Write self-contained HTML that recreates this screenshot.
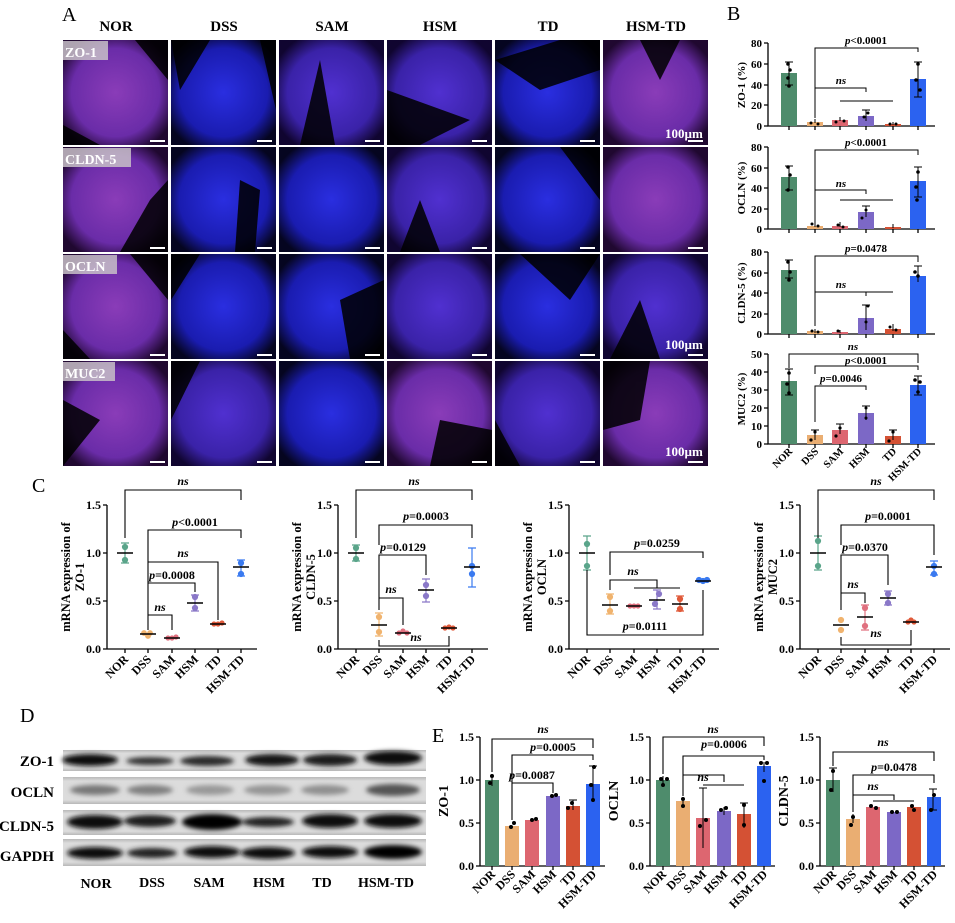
<!DOCTYPE html>
<html><head><meta charset="utf-8"><style>
html,body{margin:0;padding:0;background:#fff;}
svg{display:block;font-family:"Liberation Serif",serif;font-weight:bold;}
</style></head><body>
<svg width="955" height="923" viewBox="0 0 955 923" xmlns="http://www.w3.org/2000/svg">
<defs>
<radialGradient id="gp" cx="50%" cy="50%" r="60%"><stop offset="0" stop-color="#8a3cb8"/><stop offset="0.7" stop-color="#6a2ca8"/><stop offset="1" stop-color="#200830"/></radialGradient>
<radialGradient id="gb" cx="50%" cy="50%" r="60%"><stop offset="0" stop-color="#2a2ee0"/><stop offset="0.7" stop-color="#1a1cb0"/><stop offset="1" stop-color="#050520"/></radialGradient>
<radialGradient id="gm" cx="50%" cy="50%" r="60%"><stop offset="0" stop-color="#5030d0"/><stop offset="0.7" stop-color="#3a22a8"/><stop offset="1" stop-color="#100530"/></radialGradient>
<linearGradient id="wb" x1="0" y1="0" x2="0" y2="1"><stop offset="0" stop-color="#b8b8b8"/><stop offset="0.15" stop-color="#dcdcdc"/><stop offset="0.85" stop-color="#dcdcdc"/><stop offset="1" stop-color="#b8b8b8"/></linearGradient>
<filter id="bl"><feGaussianBlur stdDeviation="2.5"/></filter>
</defs>

<!-- Panel A -->
<text x="62" y="21" font-family="Liberation Serif" font-weight="normal" font-size="20">A</text>
<g font-size="15" text-anchor="middle">
<text x="116" y="31">NOR</text><text x="224" y="31">DSS</text><text x="332" y="31">SAM</text><text x="440" y="31">HSM</text><text x="548" y="31">TD</text><text x="656" y="31">HSM-TD</text>
</g>
<g>
<rect x="63" y="40" width="105" height="105" fill="url(#gp)"/>
<rect x="171" y="40" width="105" height="105" fill="url(#gb)"/>
<rect x="279" y="40" width="105" height="105" fill="url(#gm)"/>
<rect x="387" y="40" width="105" height="105" fill="url(#gm)"/>
<rect x="495" y="40" width="105" height="105" fill="url(#gb)"/>
<rect x="603" y="40" width="105" height="105" fill="url(#gp)"/>
<rect x="63" y="147" width="105" height="105" fill="url(#gp)"/>
<rect x="171" y="147" width="105" height="105" fill="url(#gb)"/>
<rect x="279" y="147" width="105" height="105" fill="url(#gb)"/>
<rect x="387" y="147" width="105" height="105" fill="url(#gm)"/>
<rect x="495" y="147" width="105" height="105" fill="url(#gb)"/>
<rect x="603" y="147" width="105" height="105" fill="url(#gp)"/>
<rect x="63" y="254" width="105" height="105" fill="url(#gp)"/>
<rect x="171" y="254" width="105" height="105" fill="url(#gb)"/>
<rect x="279" y="254" width="105" height="105" fill="url(#gb)"/>
<rect x="387" y="254" width="105" height="105" fill="url(#gm)"/>
<rect x="495" y="254" width="105" height="105" fill="url(#gb)"/>
<rect x="603" y="254" width="105" height="105" fill="url(#gm)"/>
<rect x="63" y="361" width="105" height="105" fill="url(#gp)"/>
<rect x="171" y="361" width="105" height="105" fill="url(#gm)"/>
<rect x="279" y="361" width="105" height="105" fill="url(#gb)"/>
<rect x="387" y="361" width="105" height="105" fill="url(#gp)"/>
<rect x="495" y="361" width="105" height="105" fill="url(#gm)"/>
<rect x="603" y="361" width="105" height="105" fill="url(#gp)"/>
</g>
<g fill="#000" opacity="0.85">
<path d="M135 40 L168 40 L168 80 Z"/><path d="M63 125 L100 145 L63 145 Z"/>
<path d="M171 40 L210 40 L180 90 Z"/><path d="M260 40 L276 40 L276 110 Z"/>
<path d="M320 60 L335 145 L300 145 Z"/><path d="M387 90 L470 120 L420 145 L387 145 Z"/>
<path d="M495 60 L560 40 L600 40 L600 70 L540 90 Z"/><path d="M640 40 L680 40 L660 80 Z"/>
<path d="M150 200 L168 180 L168 252 L120 252 Z"/><path d="M240 180 L260 190 L255 252 L235 252 Z"/>
<path d="M420 200 L440 252 L400 252 Z"/><path d="M560 147 L600 147 L600 200 Z"/>
<path d="M130 254 L168 254 L168 300 Z"/><path d="M63 330 L90 359 L63 359 Z"/>
<path d="M171 254 L200 254 L171 300 Z"/><path d="M340 300 L384 280 L384 359 L350 359 Z"/>
<path d="M520 254 L600 254 L570 300 Z"/><path d="M640 300 L660 359 L610 359 Z"/>
<path d="M63 400 L100 420 L63 466 Z"/><path d="M171 361 L200 361 L171 420 Z"/>
<path d="M440 420 L492 430 L492 466 L430 466 Z"/><path d="M495 420 L520 466 L495 466 Z"/>
<path d="M603 361 L650 361 L640 420 L603 430 Z"/>
</g>
<g fill="#fff">
<rect x="150" y="140" width="15" height="2"/><rect x="257" y="140" width="15" height="2"/><rect x="365" y="140" width="15" height="2"/><rect x="472" y="140" width="15" height="2"/><rect x="580" y="140" width="15" height="2"/><rect x="688" y="140" width="15" height="2"/>
<rect x="150" y="247" width="15" height="2"/><rect x="257" y="247" width="15" height="2"/><rect x="365" y="247" width="15" height="2"/><rect x="472" y="247" width="15" height="2"/><rect x="580" y="247" width="15" height="2"/><rect x="688" y="247" width="15" height="2"/>
<rect x="150" y="354" width="15" height="2"/><rect x="257" y="354" width="15" height="2"/><rect x="365" y="354" width="15" height="2"/><rect x="472" y="354" width="15" height="2"/><rect x="580" y="354" width="15" height="2"/><rect x="688" y="354" width="15" height="2"/>
<rect x="150" y="461" width="15" height="2"/><rect x="257" y="461" width="15" height="2"/><rect x="365" y="461" width="15" height="2"/><rect x="472" y="461" width="15" height="2"/><rect x="580" y="461" width="15" height="2"/><rect x="688" y="461" width="15" height="2"/>
</g>
<g font-size="13" fill="#fff">
<text x="665" y="138">100µm</text><text x="665" y="349">100µm</text><text x="665" y="456">100µm</text>
</g>
<g fill="#c8c0c8" opacity="0.85">
<rect x="63" y="41" width="45" height="19"/><rect x="63" y="148" width="68" height="19"/><rect x="63" y="255" width="54" height="19"/><rect x="63" y="362" width="52" height="19"/>
</g>
<g font-size="14" fill="#fff">
<text x="65" y="57">ZO-1</text><text x="65" y="164">CLDN-5</text><text x="65" y="271">OCLN</text><text x="65" y="378">MUC2</text>
</g>

<!-- Panel B -->
<text x="727" y="20" font-size="20" font-weight="normal">B</text>
<g stroke="#000" stroke-width="1.3" fill="none">
<path d="M768 43 V126 H935"/><path d="M768 147 V229 H935"/><path d="M768 252 V334 H935"/><path d="M768 354 V444 H935"/>
<path d="M764 43H768M764 64H768M764 85H768M764 105H768M764 126H768"/>
<path d="M764 147H768M764 168H768M764 188H768M764 209H768M764 229H768"/>
<path d="M764 252H768M764 273H768M764 293H768M764 314H768M764 334H768"/>
<path d="M764 354H768M764 372H768M764 390H768M764 408H768M764 426H768M764 444H768"/>
<path d="M789 126v4M815 126v4M840 126v4M866 126v4M893 126v4M918 126v4"/>
<path d="M789 229v4M815 229v4M840 229v4M866 229v4M893 229v4M918 229v4"/>
<path d="M789 334v4M815 334v4M840 334v4M866 334v4M893 334v4M918 334v4"/>
<path d="M789 444v4M815 444v4M840 444v4M866 444v4M893 444v4M918 444v4"/>
</g>
<g font-size="11" text-anchor="end">
<text x="762" y="47">80</text><text x="762" y="68">60</text><text x="762" y="89">40</text><text x="762" y="109">20</text><text x="762" y="130">0</text>
<text x="762" y="151">80</text><text x="762" y="172">60</text><text x="762" y="192">40</text><text x="762" y="213">20</text><text x="762" y="233">0</text>
<text x="762" y="256">80</text><text x="762" y="277">60</text><text x="762" y="297">40</text><text x="762" y="318">20</text><text x="762" y="338">0</text>
<text x="762" y="358">50</text><text x="762" y="376">40</text><text x="762" y="394">30</text><text x="762" y="412">20</text><text x="762" y="430">10</text><text x="762" y="448">0</text>
</g>
<g font-size="11" text-anchor="middle">
<text transform="translate(745 85) rotate(-90)">ZO-1 (%)</text>
<text transform="translate(745 188) rotate(-90)">OCLN (%)</text>
<text transform="translate(745 293) rotate(-90)">CLDN-5 (%)</text>
<text transform="translate(745 399) rotate(-90)">MUC2 (%)</text>
</g>
<g>
<rect x="781" y="73" width="16" height="53" fill="#4e8c6c"/><rect x="807" y="122" width="16" height="4" fill="#eaae72"/><rect x="832" y="120" width="16" height="6" fill="#dd6670"/><rect x="858" y="116" width="16" height="10" fill="#7c68c6"/><rect x="885" y="124" width="16" height="2" fill="#d45134"/><rect x="910" y="79" width="16" height="47" fill="#2b62f0"/>
<rect x="781" y="177" width="16" height="52" fill="#4e8c6c"/><rect x="807" y="226" width="16" height="3" fill="#eaae72"/><rect x="832" y="226" width="16" height="3" fill="#dd6670"/><rect x="858" y="212" width="16" height="17" fill="#7c68c6"/><rect x="885" y="227" width="16" height="2" fill="#d45134"/><rect x="910" y="181" width="16" height="48" fill="#2b62f0"/>
<rect x="781" y="270" width="16" height="64" fill="#4e8c6c"/><rect x="807" y="331" width="16" height="3" fill="#eaae72"/><rect x="832" y="332" width="16" height="2" fill="#dd6670"/><rect x="858" y="318" width="16" height="16" fill="#7c68c6"/><rect x="885" y="329" width="16" height="5" fill="#d45134"/><rect x="910" y="276" width="16" height="58" fill="#2b62f0"/>
<rect x="781" y="381" width="16" height="63" fill="#4e8c6c"/><rect x="807" y="435" width="16" height="9" fill="#eaae72"/><rect x="832" y="430" width="16" height="14" fill="#dd6670"/><rect x="858" y="413" width="16" height="31" fill="#7c68c6"/><rect x="885" y="436" width="16" height="8" fill="#d45134"/><rect x="910" y="385" width="16" height="59" fill="#2b62f0"/>
</g>
<g stroke="#000" stroke-width="1" fill="none">
<path d="M789 62V85M785 62h8M785 85h8M918 62V97M914 62h8M914 97h8M866 110V121M862 110h8M815 119V123M840 117V121M893 122V125"/>
<path d="M789 166V190M785 166h8M785 190h8M918 167V197M914 167h8M914 197h8M866 206V217M862 206h8M815 221V227M840 222V227M893 224V228"/>
<path d="M789 260V278M785 260h8M785 278h8M918 266V282M914 266h8M866 305V330M862 305h8M815 329V333M840 330V333M893 324V331"/>
<path d="M789 369V395M785 369h8M785 395h8M918 376V395M914 376h8M914 395h8M866 406V420M862 406h8M815 430V440M811 430h8M840 424V434M836 424h8M893 430V440M889 430h8"/>
</g>
<g fill="#000">
<circle cx="788" cy="64" r="1.8"/><circle cx="790" cy="70" r="1.8"/><circle cx="788" cy="78" r="1.8"/><circle cx="789" cy="86" r="1.8"/>
<circle cx="811" cy="123" r="1.5"/><circle cx="818" cy="124" r="1.5"/><circle cx="836" cy="122" r="1.5"/><circle cx="844" cy="121" r="1.5"/><circle cx="864" cy="117" r="1.5"/><circle cx="868" cy="113" r="1.5"/><circle cx="890" cy="124" r="1.5"/><circle cx="896" cy="124" r="1.5"/><circle cx="918" cy="64" r="1.8"/><circle cx="916" cy="80" r="1.8"/><circle cx="920" cy="90" r="1.8"/>
<circle cx="788" cy="167" r="1.8"/><circle cx="790" cy="175" r="1.8"/><circle cx="788" cy="190" r="1.8"/><circle cx="812" cy="224" r="1.5"/><circle cx="818" cy="226" r="1.5"/><circle cx="838" cy="225" r="1.5"/><circle cx="843" cy="227" r="1.5"/><circle cx="866" cy="210" r="1.5"/><circle cx="862" cy="218" r="1.5"/><circle cx="918" cy="172" r="1.8"/><circle cx="916" cy="187" r="1.8"/><circle cx="917" cy="200" r="1.8"/>
<circle cx="788" cy="262" r="1.8"/><circle cx="790" cy="272" r="1.8"/><circle cx="789" cy="280" r="1.8"/><circle cx="812" cy="331" r="1.5"/><circle cx="818" cy="332" r="1.5"/><circle cx="838" cy="331" r="1.5"/><circle cx="868" cy="306" r="1.5"/><circle cx="866" cy="322" r="1.5"/><circle cx="890" cy="327" r="1.5"/><circle cx="896" cy="330" r="1.5"/><circle cx="918" cy="276" r="1.8"/><circle cx="915" cy="272" r="1.8"/>
<circle cx="789" cy="373" r="1.8"/><circle cx="787" cy="384" r="1.8"/><circle cx="789" cy="393" r="1.8"/><circle cx="815" cy="432" r="1.6"/><circle cx="811" cy="440" r="1.6"/><circle cx="840" cy="428" r="1.6"/><circle cx="836" cy="436" r="1.6"/><circle cx="866" cy="408" r="1.5"/><circle cx="866" cy="418" r="1.5"/><circle cx="893" cy="432" r="1.6"/><circle cx="889" cy="441" r="1.6"/><circle cx="915" cy="380" r="1.8"/><circle cx="920" cy="382" r="1.8"/><circle cx="918" cy="392" r="1.8"/>
</g>
<g stroke="#000" stroke-width="1" fill="none">
<path d="M815 97V48H918V52M815 118V88H866V92M840 101H893"/>
<path d="M815 200V150H918V155M815 221V190H866V194M840 200H893"/>
<path d="M815 306V256H918V262M815 326V292H866V296M840 292H893"/>
<path d="M789 368V354H918V363M815 374V366H918V370M815 422V386H866V390"/>
</g>
<g font-size="11" text-anchor="middle">
<text x="866" y="44"><tspan font-style="italic">p</tspan>&lt;0.0001</text><text x="841" y="84" font-style="italic">ns</text>
<text x="866" y="146"><tspan font-style="italic">p</tspan>&lt;0.0001</text><text x="841" y="187" font-style="italic">ns</text>
<text x="866" y="252"><tspan font-style="italic">p</tspan>=0.0478</text><text x="841" y="288" font-style="italic">ns</text>
<text x="853" y="350" font-style="italic">ns</text><text x="866" y="364"><tspan font-style="italic">p</tspan>&lt;0.0001</text><text x="841" y="382"><tspan font-style="italic">p</tspan>=0.0046</text>
</g>
<g font-size="10.5" text-anchor="end">
<text transform="translate(793 452) rotate(-45)">NOR</text><text transform="translate(819 452) rotate(-45)">DSS</text><text transform="translate(844 452) rotate(-45)">SAM</text><text transform="translate(870 452) rotate(-45)">HSM</text><text transform="translate(897 452) rotate(-45)">TD</text><text transform="translate(922 452) rotate(-45)">HSM-TD</text>
</g>

<!-- Panel C -->
<text x="32" y="492" font-size="20" font-weight="normal">C</text>
<g stroke="#000" stroke-width="1.3" fill="none">
<path d="M107 505V649H257M103 505h4M103 553h4M103 601h4M103 649h4M125 649v4M148 649v4M172 649v4M195 649v4M218 649v4M241 649v4"/>
<path d="M338 505V649H488M334 505h4M334 553h4M334 601h4M334 649h4M356 649v4M379 649v4M403 649v4M426 649v4M449 649v4M472 649v4"/>
<path d="M569 505V649H719M565 505h4M565 553h4M565 601h4M565 649h4M587 649v4M610 649v4M634 649v4M657 649v4M680 649v4M703 649v4"/>
<path d="M800 505V649H950M796 505h4M796 553h4M796 601h4M796 649h4M818 649v4M841 649v4M865 649v4M888 649v4M911 649v4M934 649v4"/>
</g>
<g font-size="12" text-anchor="end">
<text x="101" y="509">1.5</text><text x="101" y="557">1.0</text><text x="101" y="605">0.5</text><text x="101" y="653">0.0</text>
<text x="332" y="509">1.5</text><text x="332" y="557">1.0</text><text x="332" y="605">0.5</text><text x="332" y="653">0.0</text>
<text x="563" y="509">1.5</text><text x="563" y="557">1.0</text><text x="563" y="605">0.5</text><text x="563" y="653">0.0</text>
<text x="794" y="509">1.5</text><text x="794" y="557">1.0</text><text x="794" y="605">0.5</text><text x="794" y="653">0.0</text>
</g>
<g font-size="12.5" text-anchor="middle">
<text transform="translate(70 577) rotate(-90)">mRNA expression of</text><text transform="translate(84 577) rotate(-90)">ZO-1</text>
<text transform="translate(301 577) rotate(-90)">mRNA expression of</text><text transform="translate(315 577) rotate(-90)">CLDN-5</text>
<text transform="translate(532 577) rotate(-90)">mRNA expression of</text><text transform="translate(546 577) rotate(-90)">OCLN</text>
<text transform="translate(763 577) rotate(-90)">mRNA expression of</text><text transform="translate(777 577) rotate(-90)">MUC2</text>
</g>
<g font-size="12" text-anchor="end">
<text transform="translate(129 660) rotate(-45)">NOR</text><text transform="translate(152 660) rotate(-45)">DSS</text><text transform="translate(176 660) rotate(-45)">SAM</text><text transform="translate(199 660) rotate(-45)">HSM</text><text transform="translate(222 660) rotate(-45)">TD</text><text transform="translate(245 660) rotate(-45)">HSM-TD</text>
<text transform="translate(360 660) rotate(-45)">NOR</text><text transform="translate(383 660) rotate(-45)">DSS</text><text transform="translate(407 660) rotate(-45)">SAM</text><text transform="translate(430 660) rotate(-45)">HSM</text><text transform="translate(453 660) rotate(-45)">TD</text><text transform="translate(476 660) rotate(-45)">HSM-TD</text>
<text transform="translate(591 660) rotate(-45)">NOR</text><text transform="translate(614 660) rotate(-45)">DSS</text><text transform="translate(638 660) rotate(-45)">SAM</text><text transform="translate(661 660) rotate(-45)">HSM</text><text transform="translate(684 660) rotate(-45)">TD</text><text transform="translate(707 660) rotate(-45)">HSM-TD</text>
<text transform="translate(822 660) rotate(-45)">NOR</text><text transform="translate(845 660) rotate(-45)">DSS</text><text transform="translate(869 660) rotate(-45)">SAM</text><text transform="translate(892 660) rotate(-45)">HSM</text><text transform="translate(915 660) rotate(-45)">TD</text><text transform="translate(938 660) rotate(-45)">HSM-TD</text>
</g>
<g stroke-width="1.2">
<g stroke="#5aa58a" fill="#5aa58a"><path d="M125 543V563M121 543h8M121 563h8"/><circle cx="125" cy="547" r="2.5"/><circle cx="125" cy="560" r="2.5"/></g>
<g stroke="#f0b36e" fill="#f0b36e"><circle cx="144" cy="633" r="2.3"/><circle cx="150" cy="633" r="2.3"/><circle cx="148" cy="636" r="2.3"/></g>
<g stroke="#e0707f" fill="#e0707f"><circle cx="168" cy="638" r="2"/><circle cx="172" cy="638" r="2"/><circle cx="176" cy="637" r="2"/></g>
<g stroke="#8a78c8" fill="#8a78c8"><path d="M195 595V611M191 595h8M191 611h8"/><circle cx="195" cy="597" r="2.5"/><circle cx="195" cy="608" r="2.5"/></g>
<g stroke="#e05a3a" fill="#e05a3a"><circle cx="214" cy="624" r="2"/><circle cx="218" cy="624" r="2"/><circle cx="222" cy="623" r="2"/></g>
<g stroke="#3a7af0" fill="#3a7af0"><path d="M241 560V576M237 560h8M237 576h8"/><circle cx="241" cy="563" r="2.5"/><circle cx="241" cy="574" r="2.5"/></g>
<path stroke="#000" stroke-width="1.6" d="M117 553h16M140 634h16M164 638h16M187 603h16M210 624h16M233 567h16"/>
<g stroke="#5aa58a" fill="#5aa58a"><path d="M356 545V561M352 545h8M352 561h8"/><circle cx="356" cy="548" r="2.5"/><circle cx="356" cy="559" r="2.5"/></g>
<g stroke="#f0b36e" fill="#f0b36e"><path d="M379 613V636M375 613h8M375 636h8"/><circle cx="379" cy="617" r="2.5"/><circle cx="379" cy="632" r="2.5"/></g>
<g stroke="#e0707f" fill="#e0707f"><circle cx="399" cy="633" r="2"/><circle cx="403" cy="631" r="2"/><circle cx="407" cy="633" r="2"/></g>
<g stroke="#8a78c8" fill="#8a78c8"><path d="M426 579V602M422 579h8M422 602h8"/><circle cx="426" cy="585" r="2.5"/><circle cx="426" cy="596" r="2.5"/></g>
<g stroke="#e05a3a" fill="#e05a3a"><circle cx="445" cy="628" r="2"/><circle cx="449" cy="627" r="2"/><circle cx="453" cy="628" r="2"/></g>
<g stroke="#3a7af0" fill="#3a7af0"><path d="M472 548V587M468 548h8M468 587h8"/><circle cx="472" cy="566" r="2.5"/><circle cx="472" cy="574" r="2.5"/></g>
<path stroke="#000" stroke-width="1.6" d="M348 553h16M371 625h16M395 633h16M418 590h16M441 628h16M464 567h16"/>
<g stroke="#5aa58a" fill="#5aa58a"><path d="M587 536V570M583 536h8M583 570h8"/><circle cx="587" cy="544" r="2.5"/><circle cx="587" cy="566" r="2.5"/></g>
<g stroke="#f0b36e" fill="#f0b36e"><path d="M610 594V614M606 594h8M606 614h8"/><circle cx="610" cy="597" r="2.5"/><circle cx="610" cy="611" r="2.5"/></g>
<g stroke="#e0707f" fill="#e0707f"><circle cx="630" cy="606" r="2"/><circle cx="634" cy="606" r="2"/><circle cx="638" cy="606" r="2"/></g>
<g stroke="#8a78c8" fill="#8a78c8"><path d="M657 590V609M653 590h8M653 609h8"/><circle cx="659" cy="594" r="2.5"/><circle cx="655" cy="604" r="2.5"/></g>
<g stroke="#e05a3a" fill="#e05a3a"><path d="M680 596V611M676 596h8M676 611h8"/><circle cx="680" cy="599" r="2.5"/><circle cx="680" cy="609" r="2.5"/></g>
<g stroke="#3a7af0" fill="#3a7af0"><circle cx="699" cy="580" r="2.5"/><circle cx="703" cy="581" r="2.5"/><circle cx="707" cy="580" r="2.5"/></g>
<path stroke="#000" stroke-width="1.6" d="M579 553h16M602 605h16M626 606h16M649 600h16M672 604h16M695 581h16"/>
<g stroke="#5aa58a" fill="#5aa58a"><path d="M818 536V570M814 536h8M814 570h8"/><circle cx="818" cy="541" r="2.5"/><circle cx="818" cy="566" r="2.5"/></g>
<g stroke="#f0b36e" fill="#f0b36e"><circle cx="841" cy="620" r="2.5"/><circle cx="841" cy="630" r="2.5"/></g>
<g stroke="#e0707f" fill="#e0707f"><path d="M865 605V630M861 605h8M861 630h8"/><circle cx="865" cy="608" r="2.5"/><circle cx="865" cy="626" r="2.5"/></g>
<g stroke="#8a78c8" fill="#8a78c8"><path d="M888 591V605M884 591h8M884 605h8"/><circle cx="888" cy="594" r="2.5"/><circle cx="888" cy="603" r="2.5"/></g>
<g stroke="#e05a3a" fill="#e05a3a"><circle cx="908" cy="622" r="2"/><circle cx="911" cy="620" r="2"/><circle cx="914" cy="622" r="2"/></g>
<g stroke="#3a7af0" fill="#3a7af0"><path d="M934 561V575M930 561h8M930 575h8"/><circle cx="934" cy="566" r="2.5"/><circle cx="934" cy="574" r="2.5"/></g>
<path stroke="#000" stroke-width="1.6" d="M810 553h16M833 625h16M857 617h16M880 598h16M903 622h16M926 567h16"/>
</g>
<g stroke="#000" stroke-width="1.1" fill="none">
<path d="M125 538V490H241V500M148 625V530H241V538M148 590V562H218V620M148 600V583H195V592M148 630V615H172V630"/>
<path d="M356 538V490H472V500M379 545V525H472V538M379 608V555H426V575M379 610V598H403V625M379 640V646H449V636"/>
<path d="M610 575V552H703V558M610 590V580H657V588M634 588H680M587 570V635H703V590"/>
<path d="M818 538V490H934V500M841 545V525H934V555M841 610V555H888V585M841 610V593H865V603M841 637V645H911V630"/>
</g>
<g font-size="12" text-anchor="middle">
<text x="183" y="485" font-style="italic">ns</text><text x="195" y="526"><tspan font-style="italic">p</tspan>&lt;0.0001</text><text x="183" y="557" font-style="italic">ns</text><text x="172" y="579"><tspan font-style="italic">p</tspan>=0.0008</text><text x="160" y="611" font-style="italic">ns</text>
<text x="414" y="485" font-style="italic">ns</text><text x="426" y="520"><tspan font-style="italic">p</tspan>=0.0003</text><text x="403" y="551"><tspan font-style="italic">p</tspan>=0.0129</text><text x="391" y="593" font-style="italic">ns</text><text x="416" y="641" font-style="italic">ns</text>
<text x="657" y="547"><tspan font-style="italic">p</tspan>=0.0259</text><text x="633" y="575" font-style="italic">ns</text><text x="645" y="630"><tspan font-style="italic">p</tspan>=0.0111</text>
<text x="876" y="485" font-style="italic">ns</text><text x="888" y="520"><tspan font-style="italic">p</tspan>=0.0001</text><text x="865" y="551"><tspan font-style="italic">p</tspan>=0.0370</text><text x="853" y="588" font-style="italic">ns</text><text x="876" y="637" font-style="italic">ns</text>
</g>

<!-- Panel D -->
<text x="20" y="722" font-size="20" font-weight="normal">D</text>
<g>
<rect x="63" y="750" width="363" height="21" fill="url(#wb)"/>
<rect x="63" y="777" width="363" height="27" fill="url(#wb)"/>
<rect x="63" y="810" width="363" height="25" fill="url(#wb)"/>
<rect x="63" y="839" width="363" height="27" fill="url(#wb)"/>
</g>
<g filter="url(#bl)">
<ellipse cx="90" cy="760" rx="28" ry="6" fill="#0a0a0a"/><ellipse cx="150" cy="761" rx="24" ry="4" fill="#333"/><ellipse cx="207" cy="761" rx="27" ry="5" fill="#2a2a2a"/><ellipse cx="272" cy="760" rx="27" ry="6" fill="#161616"/><ellipse cx="330" cy="760" rx="27" ry="6" fill="#1e1e1e"/><ellipse cx="393" cy="758" rx="29" ry="7" fill="#0a0a0a"/>
<ellipse cx="95" cy="790" rx="25" ry="5" fill="#777"/><ellipse cx="150" cy="790" rx="23" ry="5" fill="#808080"/><ellipse cx="210" cy="790" rx="24" ry="5" fill="#999"/><ellipse cx="268" cy="790" rx="24" ry="5" fill="#959595"/><ellipse cx="325" cy="790" rx="24" ry="5" fill="#909090"/><ellipse cx="393" cy="790" rx="27" ry="6" fill="#555"/>
<ellipse cx="95" cy="822" rx="28" ry="7" fill="#0a0a0a"/><ellipse cx="150" cy="821" rx="26" ry="6" fill="#1a1a1a"/><ellipse cx="212" cy="822" rx="30" ry="8" fill="#050505"/><ellipse cx="268" cy="822" rx="26" ry="5" fill="#222"/><ellipse cx="330" cy="821" rx="28" ry="7" fill="#0e0e0e"/><ellipse cx="393" cy="821" rx="29" ry="7" fill="#0a0a0a"/>
<ellipse cx="95" cy="853" rx="28" ry="6" fill="#0e0e0e"/><ellipse cx="152" cy="853" rx="25" ry="5" fill="#222"/><ellipse cx="212" cy="852" rx="28" ry="6" fill="#0e0e0e"/><ellipse cx="268" cy="853" rx="27" ry="6" fill="#111"/><ellipse cx="330" cy="852" rx="28" ry="6" fill="#0e0e0e"/><ellipse cx="393" cy="852" rx="29" ry="7" fill="#050505"/>
</g>
<g font-size="15" text-anchor="end">
<text x="54" y="766">ZO-1</text><text x="54" y="797">OCLN</text><text x="54" y="831">CLDN-5</text><text x="54" y="861">GAPDH</text>
</g>
<g font-size="14" text-anchor="middle">
<text x="96" y="888">NOR</text><text x="152" y="887">DSS</text><text x="209" y="887">SAM</text><text x="269" y="887">HSM</text><text x="322" y="887">TD</text><text x="386" y="887">HSM-TD</text>
</g>

<!-- Panel E -->
<text x="432" y="742" font-size="20" font-weight="normal">E</text>
<g stroke="#000" stroke-width="1.3" fill="none">
<path d="M480 737V866H605M476 737h4M476 780h4M476 823h4M476 866h4M492 866v4M512 866v4M532 866v4M553 866v4M573 866v4M593 866v4"/>
<path d="M650 737V866H775M646 737h4M646 780h4M646 823h4M646 866h4M663 866v4M683 866v4M703 866v4M724 866v4M744 866v4M764 866v4"/>
<path d="M820 737V866H945M816 737h4M816 780h4M816 823h4M816 866h4M833 866v4M853 866v4M873 866v4M894 866v4M914 866v4M934 866v4"/>
</g>
<g font-size="12" text-anchor="end">
<text x="474" y="741">1.5</text><text x="474" y="784">1.0</text><text x="474" y="827">0.5</text><text x="474" y="870">0.0</text>
<text x="644" y="741">1.5</text><text x="644" y="784">1.0</text><text x="644" y="827">0.5</text><text x="644" y="870">0.0</text>
<text x="814" y="741">1.5</text><text x="814" y="784">1.0</text><text x="814" y="827">0.5</text><text x="814" y="870">0.0</text>
</g>
<g font-size="14" text-anchor="middle">
<text transform="translate(448 801) rotate(-90)">ZO-1</text><text transform="translate(618 801) rotate(-90)">OCLN</text><text transform="translate(788 801) rotate(-90)">CLDN-5</text>
</g>
<g>
<rect x="485" y="780" width="14" height="86" fill="#4e8c6c"/><rect x="505" y="826" width="14" height="40" fill="#eaae72"/><rect x="525" y="820" width="14" height="46" fill="#dd6670"/><rect x="546" y="796" width="14" height="70" fill="#7c68c6"/><rect x="566" y="806" width="14" height="60" fill="#d45134"/><rect x="586" y="784" width="14" height="82" fill="#2b62f0"/>
<rect x="656" y="780" width="14" height="86" fill="#4e8c6c"/><rect x="676" y="801" width="14" height="65" fill="#eaae72"/><rect x="696" y="818" width="14" height="48" fill="#dd6670"/><rect x="717" y="811" width="14" height="55" fill="#7c68c6"/><rect x="737" y="814" width="14" height="52" fill="#d45134"/><rect x="757" y="766" width="14" height="100" fill="#2b62f0"/>
<rect x="826" y="780" width="14" height="86" fill="#4e8c6c"/><rect x="846" y="819" width="14" height="47" fill="#eaae72"/><rect x="866" y="807" width="14" height="59" fill="#dd6670"/><rect x="887" y="812" width="14" height="54" fill="#7c68c6"/><rect x="907" y="807" width="14" height="59" fill="#d45134"/><rect x="927" y="797" width="14" height="69" fill="#2b62f0"/>
</g>
<g stroke="#000" stroke-width="1" fill="none">
<path d="M492 774V786M593 766V802M573 800V810M569 800h8M589 766h8"/>
<path d="M663 776V784M683 798V804M703 788V848M724 807V815M744 803V828M764 762V772M699 788h8M740 803h8"/>
<path d="M833 768V792M829 768h8M853 814V823M933 789V810M929 789h8M929 810h8"/>
</g>
<g fill="#000">
<circle cx="492" cy="776" r="2"/><circle cx="490" cy="783" r="2"/><circle cx="511" cy="827" r="2"/><circle cx="514" cy="823" r="2"/><circle cx="532" cy="820" r="2"/><circle cx="536" cy="819" r="2"/><circle cx="552" cy="796" r="2"/><circle cx="556" cy="795" r="2"/><circle cx="572" cy="803" r="2"/><circle cx="568" cy="808" r="2"/><circle cx="594" cy="767" r="2"/><circle cx="591" cy="785" r="2"/><circle cx="593" cy="800" r="2"/>
<circle cx="661" cy="779" r="2"/><circle cx="667" cy="779" r="2"/><circle cx="663" cy="785" r="2"/><circle cx="683" cy="799" r="2"/><circle cx="683" cy="806" r="2"/><circle cx="700" cy="826" r="2"/><circle cx="706" cy="820" r="2"/><circle cx="721" cy="810" r="2"/><circle cx="726" cy="808" r="2"/><circle cx="744" cy="805" r="2"/><circle cx="744" cy="825" r="2"/><circle cx="761" cy="763" r="2"/><circle cx="767" cy="763" r="2"/><circle cx="764" cy="781" r="2"/>
<circle cx="833" cy="771" r="2"/><circle cx="831" cy="790" r="2"/><circle cx="853" cy="817" r="2"/><circle cx="851" cy="825" r="2"/><circle cx="871" cy="806" r="2"/><circle cx="876" cy="808" r="2"/><circle cx="892" cy="812" r="2"/><circle cx="897" cy="812" r="2"/><circle cx="912" cy="806" r="2"/><circle cx="914" cy="810" r="2"/><circle cx="934" cy="795" r="2"/><circle cx="931" cy="810" r="2"/>
</g>
<g stroke="#000" stroke-width="1.1" fill="none">
<path d="M492 772V739H593V748M512 820V755H593V760M512 818V783H553V793"/>
<path d="M663 774V737H764V746M683 794V756H764V760M683 796V775H724V782M703 785H744"/>
<path d="M833 766V752H934V761M853 810V775H934V783M853 812V795H894V800M873 801H914"/>
</g>
<g font-size="12" text-anchor="middle">
<text x="543" y="733" font-style="italic">ns</text><text x="553" y="751"><tspan font-style="italic">p</tspan>=0.0005</text><text x="532" y="779"><tspan font-style="italic">p</tspan>=0.0087</text>
<text x="713" y="733" font-style="italic">ns</text><text x="724" y="748"><tspan font-style="italic">p</tspan>=0.0006</text><text x="703" y="781" font-style="italic">ns</text>
<text x="883" y="746" font-style="italic">ns</text><text x="894" y="771"><tspan font-style="italic">p</tspan>=0.0478</text><text x="873" y="790" font-style="italic">ns</text>
</g>
<g font-size="12" text-anchor="end">
<text transform="translate(496 875) rotate(-45)">NOR</text><text transform="translate(516 875) rotate(-45)">DSS</text><text transform="translate(536 875) rotate(-45)">SAM</text><text transform="translate(557 875) rotate(-45)">HSM</text><text transform="translate(577 875) rotate(-45)">TD</text><text transform="translate(597 875) rotate(-45)">HSM-TD</text>
<text transform="translate(667 875) rotate(-45)">NOR</text><text transform="translate(687 875) rotate(-45)">DSS</text><text transform="translate(707 875) rotate(-45)">SAM</text><text transform="translate(728 875) rotate(-45)">HSM</text><text transform="translate(748 875) rotate(-45)">TD</text><text transform="translate(768 875) rotate(-45)">HSM-TD</text>
<text transform="translate(837 875) rotate(-45)">NOR</text><text transform="translate(857 875) rotate(-45)">DSS</text><text transform="translate(877 875) rotate(-45)">SAM</text><text transform="translate(898 875) rotate(-45)">HSM</text><text transform="translate(918 875) rotate(-45)">TD</text><text transform="translate(938 875) rotate(-45)">HSM-TD</text>
</g>
</svg>
</body></html>
